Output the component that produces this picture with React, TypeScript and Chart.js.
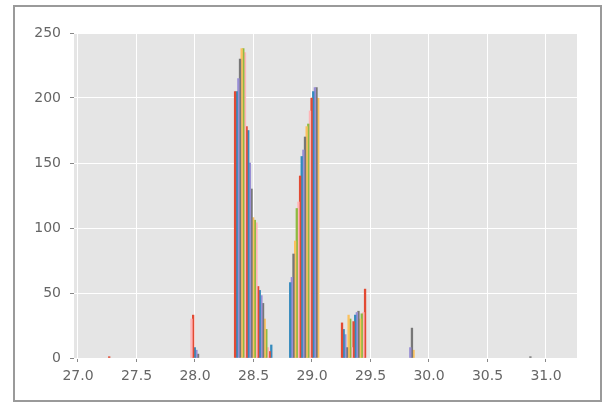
import React, { useEffect, useRef } from "react";
import { Chart, registerables } from "chart.js";

Chart.register(...registerables);

// Histogram bin edges (9 bins) and number of side-by-side series
const binEdges = [26.919, 27.376, 27.833, 28.29, 28.747, 29.204, 29.661, 30.118, 30.575, 31.032];
const seriesCount = 26;
const ggColors = ["#E24A33", "#348ABD", "#988ED5", "#777777", "#FBC15E", "#8EBA42", "#FFB5B8"];
const xTicks = [27.0, 27.5, 28.0, 28.5, 29.0, 29.5, 30.0, 30.5, 31.0];
const yTicks = [0, 50, 100, 150, 200, 250];

// Counts per bin, one value per series (26 series)
const countsBin0 = [0, 0, 0, 0, 0, 0, 0, 0, 0, 0, 0, 0, 0, 0, 0, 0, 0, 0, 0, 0, 0, 1, 0, 0, 0, 0];
const countsBin1 = [0, 0, 0, 0, 0, 0, 0, 0, 0, 0, 0, 0, 0, 0, 0, 0, 0, 0, 0, 0, 0, 0, 0, 0, 0, 0];
const countsBin2 = [0, 0, 0, 0, 0, 0, 30, 33, 8, 6, 3, 0, 0, 0, 0, 0, 0, 0, 0, 0, 0, 0, 0, 0, 0, 0];
const countsBin3 = [205, 205, 215, 230, 238, 238, 235, 178, 175, 150, 130, 108, 106, 104, 55, 52, 48, 42, 30, 22, 8, 5, 10, 0, 0, 0];
const countsBin4 = [0, 58, 62, 80, 90, 115, 120, 140, 155, 160, 170, 178, 180, 190, 200, 205, 208, 208, 200, 0, 0, 0, 0, 0, 0, 0];
const countsBin5 = [27, 22, 18, 8, 33, 30, 8, 28, 33, 35, 36, 30, 34, 35, 53, 0, 0, 0, 0, 0, 0, 0, 0, 0, 0, 0];
const countsBin6 = [0, 0, 0, 0, 0, 0, 0, 0, 0, 8, 23, 6, 0, 0, 0, 0, 0, 0, 0, 0, 0, 0, 0, 0, 0, 0];
const countsBin7 = [0, 0, 0, 0, 0, 0, 0, 0, 0, 0, 0, 0, 0, 0, 0, 0, 0, 0, 0, 0, 0, 0, 0, 0, 0, 0];
const countsBin8 = [0, 0, 0, 0, 0, 0, 0, 0, 0, 0, 0, 0, 0, 0, 0, 0, 0, 1, 0, 0, 0, 0, 0, 0, 0, 0];

const binCounts = [countsBin0, countsBin1, countsBin2, countsBin3, countsBin4, countsBin5, countsBin6, countsBin7, countsBin8];

const bgPlugin = {
  id: "ggBackground",
  beforeDraw(chart: any) {
    const { ctx, chartArea, width, height } = chart;
    ctx.save();
    ctx.fillStyle = "#ffffff";
    ctx.fillRect(0, 0, width, height);
    ctx.fillStyle = "#E5E5E5";
    ctx.fillRect(chartArea.left, chartArea.top, chartArea.right - chartArea.left, chartArea.bottom - chartArea.top);
    ctx.restore();
  },
  afterDraw(chart: any) {
    const { ctx } = chart;
    ctx.save();
    ctx.strokeStyle = "#9a9a9a";
    ctx.lineWidth = 2;
    ctx.strokeRect(14, 6, 587, 395);
    ctx.restore();
  },
};

export default function App() {
  const ref = useRef<HTMLCanvasElement | null>(null);

  useEffect(() => {
    if (!ref.current) return;
    const datasets = Array.from({ length: seriesCount }, (_, j) => ({
      label: `series ${j + 1}`,
      data: binCounts.map((counts, i) => {
        const w = binEdges[i + 1] - binEdges[i];
        const bw = (0.8 * w) / seriesCount;
        return { x: binEdges[i] + 0.1 * w + (j + 0.5) * bw, y: counts[j] === 0 ? null : counts[j] };
      }),
      backgroundColor: ggColors[j % ggColors.length],
      borderWidth: 0,
      grouped: false,
      categoryPercentage: 1,
      barPercentage: 1,
    }));

    const font = { family: "DejaVu Sans", size: 14 };
    const chart = new Chart(ref.current, {
      type: "bar",
      data: { datasets } as any,
      options: {
        animation: false,
        responsive: false,
        devicePixelRatio: 1,
        layout: { padding: { left: 0, right: 31, top: 33, bottom: 0 } },
        plugins: { legend: { display: false }, tooltip: { enabled: false } },
        scales: {
          x: {
            type: "linear",
            offset: false,
            min: 26.966,
            max: 31.265,
            afterBuildTicks: (scale: any) => {
              scale.ticks = xTicks.map((v) => ({ value: v }));
            },
            afterFit: (scale: any) => {
              scale.height = 47;
            },
            ticks: {
              autoSkip: false,
              maxRotation: 0,
              padding: 6,
              color: "#666666",
              font,
              callback: (v: any) => Number(v).toFixed(1),
            },
            grid: { offset: false, color: "#ffffff", lineWidth: 1, tickColor: "#888888", tickLength: 4 },
            border: { display: false },
          },
          y: {
            type: "linear",
            min: 0,
            max: 250,
            afterBuildTicks: (scale: any) => {
              scale.ticks = yTicks.map((v) => ({ value: v }));
            },
            afterFit: (scale: any) => {
              scale.width = 74;
            },
            ticks: {
              padding: 9,
              color: "#666666",
              font,
              callback: (v: any) => String(v),
            },
            grid: { color: "#ffffff", lineWidth: 1, tickColor: "#888888", tickLength: 4 },
            border: { display: false },
          },
        },
      } as any,
      plugins: [bgPlugin],
    });
    return () => chart.destroy();
  }, []);

  return (
    <div style={{ position: "fixed", left: 0, top: 0, width: 608, height: 405 }}>
      <canvas ref={ref} width={608} height={405} style={{ display: "block" }} />
    </div>
  );
}
